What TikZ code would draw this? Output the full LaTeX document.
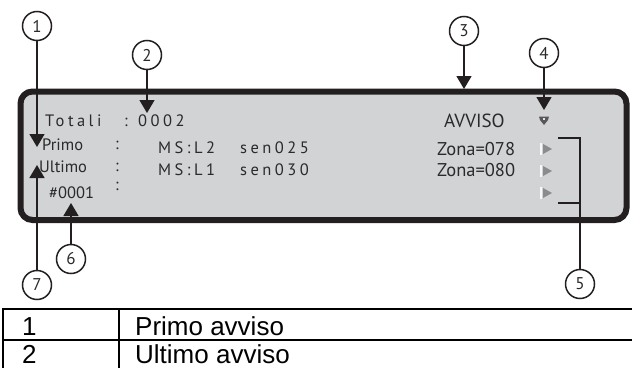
\documentclass[tikz,border=0pt]{standalone}
\usepackage{fontspec}
\setmainfont{Liberation Sans}
\newfontfamily\lcd{PT Sans}
\newfontfamily\lcdsp[LetterSpace=21]{PT Sans}
\usetikzlibrary{arrows.meta}
\definecolor{lcdbg}{HTML}{D1D3D4}
\definecolor{ink}{HTML}{231F20}
\definecolor{lcdtxt}{HTML}{2A2A2A}
\definecolor{markgray}{HTML}{8A8C8E}
\tikzset{
  callout/.style={circle, draw=ink, line width=1.5pt, minimum size=29pt, inner sep=0pt, fill=white,
    font=\lcd\fontsize{17}{17}\selectfont, text=lcdtxt},
  ptr/.style={draw=ink, line width=1.4pt, -{Triangle[length=13pt,width=15pt]}},
  thin line/.style={draw=ink, line width=1.2pt},
  lcdbox/.style={draw=ink, fill=lcdbg, line width=6pt, rounded corners=12pt},
  lcdtext/.style={anchor=base west, inner sep=0pt, text=lcdtxt, font=\lcd\fontsize{16.5}{16.5}\selectfont},
  lcdspaced/.style={anchor=base west, inner sep=0pt, text=lcdtxt, font=\lcdsp\fontsize{16.5}{16.5}\selectfont},
  lcdbig/.style={anchor=base west, inner sep=0pt, text=lcdtxt, font=\lcd\fontsize{19}{19}\selectfont},
  lcdzone/.style={anchor=base west, inner sep=0pt, text=lcdtxt, font=\lcd\fontsize{18.5}{18.5}\selectfont},
  tabtext/.style={anchor=base west, inner sep=0pt, font=\fontsize{26}{26}\selectfont},
  tabline/.style={draw=black, line width=1.6pt},
}
\begin{document}
\begin{tikzpicture}[x=1pt,y=-1pt]
\useasboundingbox (0,0) rectangle (632,367);
\clip (0,0) rectangle (632,367);

% LCD box
\draw[lcdbox] (20.5,91.5) rectangle (626.5,220);

% texts in the display
\node[lcdspaced] (tot) at (45,126) {Totali};
\node[lcdspaced] (totc) at (124,126) {:};
\node[lcdspaced] (totn) at (138,126) {0002};
\node[lcdtext] (primo) at (42,150) {Primo};
\node[lcdtext] (pc) at (115,149) {:};
\node[lcdspaced] (ms2) at (158,153) {MS:L2};
\node[lcdspaced] (s25) at (240,153) {sen025};
\node[lcdtext] (ultimo) at (39,172) {Ultimo};
\node[lcdtext] (uc) at (115,171) {:};
\node[lcdspaced] (ms1) at (158,175) {MS:L1};
\node[lcdspaced] (s30) at (240,175) {sen030};
\node[lcdtext] (num) at (49,198) {\#0001};
\node[lcdtext] (nc) at (115,190) {:};
\node[lcdbig] (avv) at (444,127) {AVVISO};
\node[lcdzone] (z1) at (437,155) {Zona=078};
\node[lcdzone] (z2) at (437,176) {Zona=080};

% small icon (4)
\fill[ink!75] (539,116.5) -- (549,116.5) -- (548,120) -- (544,125) -- (540,120) -- cycle;
\fill[lcdbg!60!white] (543,117.5) rectangle (545,120);

% right markers
\foreach \yy in {149,171,193} {
  \fill[white!85!lcdbg] (540,\yy-6) rectangle (542,\yy+6);
  \fill[markgray] (543,\yy-5) -- (552,\yy) -- (543,\yy+5) -- cycle;
}

% callouts
\node[callout] (c1) at (37,26) {1};
\node[callout] (c2) at (147,55) {2};
\node[callout] (c3) at (464,31) {3};
\node[callout] (c4) at (544,53) {4};
\node[callout] (c5) at (580,284) {5};
\node[callout] (c6) at (71,259) {6};
\node[callout] (c7) at (37,285) {7};

\coordinate (a1) at (37,147);
\coordinate (a2) at (147,113);
\coordinate (a3) at (464,89);
\coordinate (a4) at (544,110);
\coordinate (a6) at (71,203);
\coordinate (a7) at (37,165);
\draw[ptr] (c1.south) -- (a1);
\draw[ptr] (c2.south) -- (a2);
\draw[ptr] (c3.south) -- (a3);
\draw[ptr] (c4.south) -- (a4);
\draw[ptr] (c6.north) -- (a6);
\draw[ptr] (c7.north) -- (a7);

% bracket for 5
\coordinate (b1) at (558,138);
\coordinate (b2) at (580,138);
\coordinate (b3) at (558,203);
\coordinate (b4) at (580,203);
\draw[thin line] (b1) -- (b2) -- (c5.north);
\draw[thin line] (b3) -- (b4);

% table
\draw[tabline] (3,309) -- (634,309);
\draw[tabline] (3,340) -- (634,340);
\draw[tabline] (3,308.2) -- (3,370);
\draw[tabline] (119,308.2) -- (119,370);
\node[tabtext] (t1) at (22,335) {1};
\node[tabtext] (t1b) at (135,335) {Primo avviso};
\node[tabtext] (t2) at (22,363) {2};
\node[tabtext] (t2b) at (135,363) {Ultimo avviso};
\end{tikzpicture}
\end{document}
